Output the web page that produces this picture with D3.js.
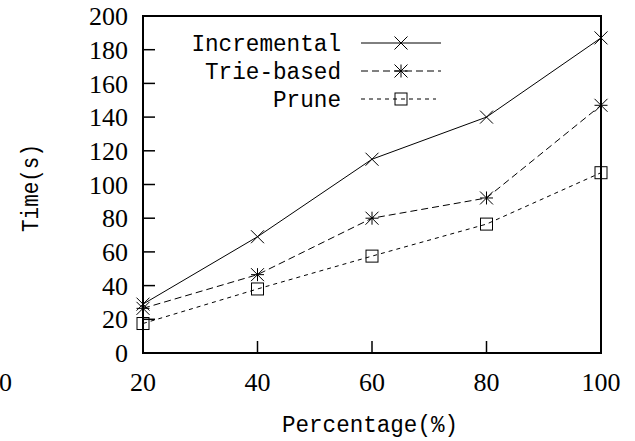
<!DOCTYPE html>
<html><head><meta charset="utf-8">
<script src="https://cdn.jsdelivr.net/npm/d3@7"></script>
<style>body{margin:0;background:#fff}svg{display:block}
.serif{font-family:"Times New Roman",Tinos,"Liberation Serif","DejaVu Serif","Noto Serif",serif;}
.mono{font-family:"Courier New",Cousine,"Liberation Mono","Nimbus Mono PS",monospace;}
</style>
</head><body>
<svg id="c" width="635" height="441"></svg>
<script>
const percentages = [20, 40, 60, 80, 100];
const incremental = [29, 69, 115, 140, 187];
const trieBased = [26.5, 46.5, 80, 92, 147];
const prune = [17.5, 38, 57.5, 76.5, 107];
const yTicks = [0, 20, 40, 60, 80, 100, 120, 140, 160, 180, 200];
const xTicks = [20, 40, 60, 80, 100];
const seriesNames = ["Incremental", "Trie-based", "Prune"];
const seriesMarkers = ["cross", "star", "square"];
const seriesDash = [null, "7,4", "4,4"];

const svg = d3.select("#c");
const L = 143, R = 601, T = 16, B = 353;
const x = d3.scaleLinear().domain([20, 100]).range([L, R]);
const y = d3.scaleLinear().domain([0, 200]).range([B, T]);

// ticks (inward)
svg.append("g").selectAll("line").data(yTicks.filter(v => v > 0 && v < 200)).join("line")
  .attr("x1", L).attr("x2", L + 12).attr("y1", d => y(d)).attr("y2", d => y(d))
  .attr("stroke", "#000").attr("stroke-width", 1.5);
svg.append("g").selectAll("line").data(xTicks.filter(v => v > 20 && v < 100)).join("line")
  .attr("x1", d => x(d)).attr("x2", d => x(d)).attr("y1", B).attr("y2", B - 12)
  .attr("stroke", "#000").attr("stroke-width", 1.5);

// tick labels
svg.append("g").selectAll("text").data(yTicks).join("text")
  .attr("class", "serif")
  .attr("x", 128).attr("y", d => y(d)).attr("dy", "0.35em")
  .attr("text-anchor", "end").attr("font-size", 26)
  .text(d => d);
svg.append("g").selectAll("text").data(xTicks).join("text")
  .attr("class", "serif")
  .attr("x", d => x(d)).attr("y", 391)
  .attr("text-anchor", "middle").attr("font-size", 26)
  .text(d => d);
svg.append("text").attr("class", "serif").attr("x", 12).attr("y", 391).attr("text-anchor", "end")
  .attr("font-size", 26).text("0");

// axis titles
svg.append("text").attr("class", "mono").attr("x", 370).attr("y", 432).attr("text-anchor", "middle")
  .attr("font-size", 23)
  .attr("textLength", 176).attr("lengthAdjust", "spacingAndGlyphs").text("Percentage(%)");
svg.append("text").attr("class", "mono").attr("transform", "translate(38,188) rotate(-90)")
  .attr("text-anchor", "middle").attr("font-size", 23)
  .attr("textLength", 88).attr("lengthAdjust", "spacingAndGlyphs").text("Time(s)");

// markers
function marker(g, type, cx, cy) {
  const s = 6.5;
  if (type === "cross") {
    g.append("path").attr("d", `M${cx-s},${cy-s}L${cx+s},${cy+s}M${cx-s},${cy+s}L${cx+s},${cy-s}`)
      .attr("stroke", "#000").attr("stroke-width", 1).attr("fill", "none");
  } else if (type === "star") {
    g.append("path").attr("d", `M${cx-s},${cy-s}L${cx+s},${cy+s}M${cx-s},${cy+s}L${cx+s},${cy-s}M${cx},${cy-s}L${cx},${cy+s}M${cx-s},${cy}L${cx+s},${cy}`)
      .attr("stroke", "#000").attr("stroke-width", 1).attr("fill", "none");
  } else {
    g.append("rect").attr("x", cx - 6).attr("y", cy - 6).attr("width", 12).attr("height", 12)
      .attr("stroke", "#000").attr("stroke-width", 1).attr("fill", "none");
  }
}

const allSeries = [incremental, trieBased, prune];
const line = d3.line().x((d, i) => x(percentages[i])).y(d => y(d));
allSeries.forEach((vals, k) => {
  const g = svg.append("g");
  g.append("path").attr("d", line(vals)).attr("fill", "none").attr("stroke", "#000")
    .attr("stroke-width", 1).attr("stroke-dasharray", seriesDash[k]);
  vals.forEach((v, i) => marker(g, seriesMarkers[k], x(percentages[i]), y(v)));
});

// legend
seriesNames.forEach((name, k) => {
  const ly = 43 + k * 28;
  svg.append("text").attr("class", "mono").attr("x", 341).attr("y", ly).attr("dy", "0.35em")
    .attr("text-anchor", "end").attr("font-size", 23)
    .attr("textLength", name.length * 13.6).attr("lengthAdjust", "spacingAndGlyphs")
    .text(name);
  svg.append("line").attr("x1", 361).attr("x2", k === 2 ? 436 : 441).attr("y1", ly).attr("y2", ly)
    .attr("stroke", "#000").attr("stroke-width", 1).attr("stroke-dasharray", seriesDash[k]);
  marker(svg.append("g"), seriesMarkers[k], 401, ly);
});

// frame
svg.append("path").attr("d", `M${L},${T}H${R}V${B}H${L}Z`).attr("fill", "none")
  .attr("stroke", "#000").attr("stroke-width", 2);
</script>
</body></html>
